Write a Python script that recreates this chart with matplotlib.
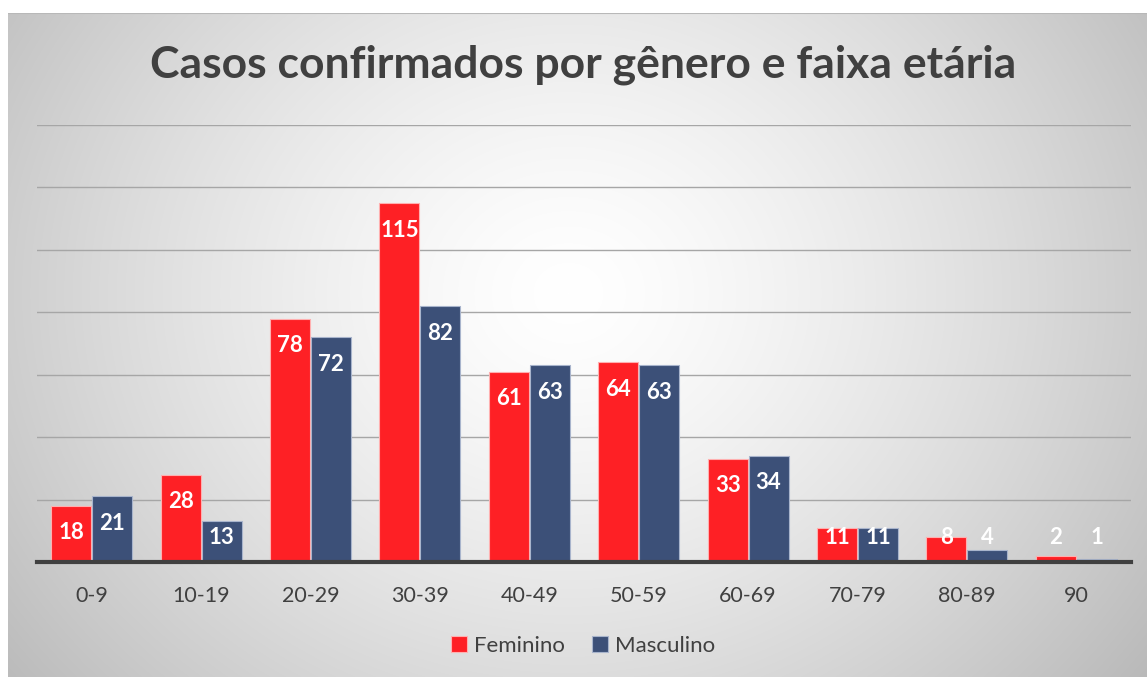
import matplotlib.pyplot as plt
import numpy as np

faixas = ['0-9', '10-19', '20-29', '30-39', '40-49', '50-59', '60-69', '70-79', '80-89', '90']
feminino = [18, 28, 78, 115, 61, 64, 33, 11, 8, 2]
masculino = [21, 13, 72, 82, 63, 63, 34, 11, 4, 1]

red = '#FE2025'
blue = '#3C5078'
txt = '#404040'

W, H = 1147, 677
fig = plt.figure(figsize=(W/100, H/100), dpi=100)
fig.patch.set_facecolor('white')

# radial grey gradient behind the chart
bg = fig.add_axes([8/W, 0, 1-8/W, (H-13)/H])
yy, xx = np.mgrid[0:664, 0:1139]
r = np.sqrt(((xx-560)/640.)**2 + ((yy-280)/560.)**2)
g = np.clip(1 - 0.23*r**1.4, 0, 1)
bg.imshow(np.dstack([g, g, g]), aspect='auto', extent=[0, 1, 0, 1])
bg.plot([0, 1], [1, 1], color='#b8b8b8', lw=1.5, transform=bg.transAxes)
bg.set_axis_off()

ax = fig.add_axes([37/W, 115/H, 1094/W, 437/H])
ax.set_facecolor('none')
x = np.arange(len(faixas))
w = 0.366
b1 = ax.bar(x - w/2 - 0.004, feminino, w, color=red, edgecolor='#ffb0b0', linewidth=0.8, zorder=3)
b2 = ax.bar(x + w/2 + 0.004, masculino, w, color=blue, edgecolor='#a8b4cc', linewidth=0.8, zorder=3)

for xs, vals in [(x - w/2 - 0.004, feminino), (x + w/2 + 0.004, masculino)]:
    for xi, v in zip(xs, vals):
        ax.text(xi, max(v - 8.65, 8.0), str(v), ha='center', va='center', color='white',
                fontsize=16, fontweight='bold', family='Lato', zorder=4)

ax.set_xlim(-0.5, len(faixas) - 0.5)
ax.set_ylim(0, 140)
ax.set_yticks(np.arange(20, 141, 20))
ax.yaxis.grid(True, color='#a6a6a6', lw=1, zorder=0)
ax.tick_params(axis='y', left=False, labelleft=False)
ax.set_xticks(x)
ax.set_xticklabels(faixas, fontsize=15.5, color=txt, family='Lato')
ax.tick_params(axis='x', length=0, pad=17)
for s in ['top', 'right', 'left']:
    ax.spines[s].set_visible(False)
ax.spines['bottom'].set_color(txt)
ax.spines['bottom'].set_linewidth(3)
ax.spines['bottom'].set_zorder(5)

fig.text(583/W, 1 - 65/H, 'Casos confirmados por gênero e faixa etária', ha='center', va='center',
         fontsize=32, fontweight='bold', color=txt, family='Lato')

leg = fig.legend([b1, b2], ['Feminino', 'Masculino'], loc='center', bbox_to_anchor=(583/W, 1 - 646/H),
                 ncol=2, frameon=False, prop={'family': 'Lato', 'size': 16}, handlelength=0.75,
                 handleheight=0.75, handletextpad=0.3, columnspacing=1.2)
for t in leg.get_texts():
    t.set_color(txt)

fig.savefig('out.png', dpi=100)
